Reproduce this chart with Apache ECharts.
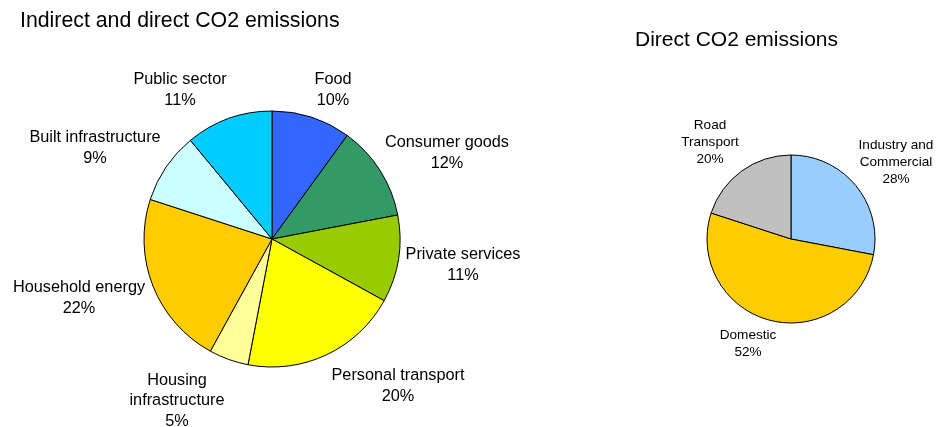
<!DOCTYPE html>
<html><head><meta charset="utf-8">
<script src="https://cdn.jsdelivr.net/npm/echarts@6/dist/echarts.min.js"></script>
<style>html,body{margin:0;padding:0;background:#fff}#c{width:942px;height:427px}</style>
</head><body><div id="c"></div>
<script>
// Data
const leftCategories = ['Food','Consumer goods','Private services','Personal transport','Housing\ninfrastructure','Household energy','Built infrastructure','Public sector'];
const leftValues = [10,12,11,20,5,22,9,11];
const rightCategories = ['Industry and\nCommercial','Domestic','Road\nTransport'];
const rightValues = [28,52,20];

// Styles / layout
const leftColors = ['#3366FF','#339966','#99CC00','#FFFF00','#FFFF99','#FFCC00','#CCFFFF','#00CCFF'];
const rightColors = ['#99CCFF','#FFCC00','#C0C0C0'];
const leftLabelPos = [[333,90],[447,153],[463,265],[398,386],[177,401],[79,298],[95,148],[180,90]];
const rightLabelPos = [[896,162],[748,344],[710,142]];

const font = 'Liberation Sans, Arial, sans-serif';
const chart = echarts.init(document.getElementById('c'), null, {renderer:'canvas'});
function mk(cats, vals, colors){ return cats.map((n,i)=>({name:n,value:vals[i],itemStyle:{color:colors[i]}})); }
chart.setOption({
  animation:false,
  title:[
    {text:'Indirect and direct CO2 emissions', left:15, top:6, textStyle:{fontFamily:font,fontSize:21.3,fontWeight:'normal',color:'#000'}},
    {text:'Direct CO2 emissions', left:630, top:25, textStyle:{fontFamily:font,fontSize:21,fontWeight:'normal',color:'#000'}}
  ],
  series:[
    {type:'pie', center:[272,239], radius:128, startAngle:90, clockwise:true,
     data: mk(leftCategories,leftValues,leftColors),
     itemStyle:{borderColor:'#000',borderWidth:1},
     emphasis:{disabled:true},
     label:{show:true, position:'outside', overflow:'none', formatter:'{b}\n{c}%', fontFamily:font, fontSize:16.3, lineHeight:20.5, color:'#000', align:'center'},
     labelLine:{show:false},
     labelLayout:function(p){const q=leftLabelPos[p.dataIndex];return {x:q[0],y:q[1],align:'center',verticalAlign:'middle'};}
    },
    {type:'pie', center:[791,239], radius:84, startAngle:90, clockwise:true,
     data: mk(rightCategories,rightValues,rightColors),
     itemStyle:{borderColor:'#000',borderWidth:1},
     emphasis:{disabled:true},
     label:{show:true, position:'outside', overflow:'none', formatter:'{b}\n{c}%', fontFamily:font, fontSize:13.6, lineHeight:17, color:'#000', align:'center'},
     labelLine:{show:false},
     labelLayout:function(p){const q=rightLabelPos[p.dataIndex];return {x:q[0],y:q[1],align:'center',verticalAlign:'middle'};}
    }
  ]
});
</script></body></html>
